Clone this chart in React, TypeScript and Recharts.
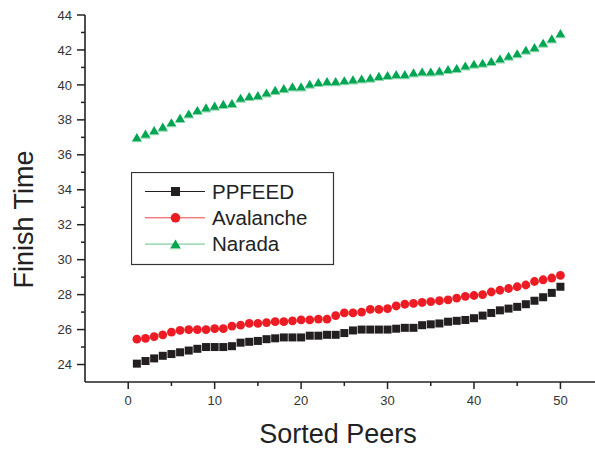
import React from 'react';
import { LineChart, Line, XAxis, YAxis, Legend, Label } from 'recharts';

// Peer rank (sorted by finish time)
const peers = [
  1, 2, 3, 4, 5, 6, 7, 8, 9, 10,
  11, 12, 13, 14, 15, 16, 17, 18, 19, 20,
  21, 22, 23, 24, 25, 26, 27, 28, 29, 30,
  31, 32, 33, 34, 35, 36, 37, 38, 39, 40,
  41, 42, 43, 44, 45, 46, 47, 48, 49, 50,
];

const ppfeed = [
  24.05, 24.2, 24.35, 24.5, 24.6, 24.7, 24.8, 24.9, 25.0, 25.0,
  25.0, 25.05, 25.25, 25.3, 25.35, 25.45, 25.5, 25.55, 25.55, 25.55,
  25.65, 25.65, 25.7, 25.7, 25.8, 25.95, 26.0, 26.0, 26.0, 26.0,
  26.05, 26.1, 26.1, 26.25, 26.3, 26.35, 26.45, 26.5, 26.55, 26.65,
  26.8, 26.95, 27.1, 27.2, 27.3, 27.45, 27.65, 27.85, 28.1, 28.45,
];

const avalanche = [
  25.45, 25.5, 25.6, 25.7, 25.85, 25.95, 26.0, 26.0, 26.0, 26.05,
  26.05, 26.2, 26.25, 26.35, 26.35, 26.4, 26.45, 26.45, 26.5, 26.55,
  26.55, 26.6, 26.6, 26.8, 26.95, 26.95, 27.0, 27.15, 27.15, 27.2,
  27.35, 27.45, 27.5, 27.55, 27.6, 27.65, 27.7, 27.8, 27.9, 27.95,
  28.0, 28.15, 28.25, 28.35, 28.45, 28.55, 28.75, 28.85, 28.95, 29.1,
];

const narada = [
  37.0, 37.2, 37.4, 37.6, 37.85, 38.1, 38.35, 38.55, 38.7, 38.8,
  38.9, 38.95, 39.25, 39.35, 39.4, 39.55, 39.7, 39.8, 39.9, 39.9,
  40.05, 40.15, 40.2, 40.2, 40.25, 40.3, 40.35, 40.4, 40.5, 40.55,
  40.6, 40.6, 40.7, 40.75, 40.75, 40.8, 40.9, 40.95, 41.1, 41.2,
  41.25, 41.35, 41.5, 41.65, 41.8, 42.0, 42.15, 42.4, 42.65, 42.95,
];

const xTicks = [0, 5, 10, 15, 20, 25, 30, 35, 40, 45, 50];
const yTicks = [
  24, 25, 26, 27, 28, 29, 30, 31, 32, 33, 34,
  35, 36, 37, 38, 39, 40, 41, 42, 43, 44,
];

const seriesNames = ['PPFEED', 'Avalanche', 'Narada'];

const data = peers.map((p, i) => ({
  peer: p,
  ppfeed: ppfeed[i],
  avalanche: avalanche[i],
  narada: narada[i],
}));

const FONT = '"Liberation Sans", Arial, Helvetica, sans-serif';
const INK = '#222';
const BLACK = '#231f20';
const RED = '#ed1c24';
const GREEN = '#00a651';

const Square = ({ cx, cy, size = 8 }: any) => {
  if (cx == null || cy == null) return null;
  return <rect x={cx - size / 2} y={cy - size / 2} width={size} height={size} fill={BLACK} />;
};

const Dot = ({ cx, cy, r = 4.4 }: any) => {
  if (cx == null || cy == null) return null;
  return <circle cx={cx} cy={cy} r={r} fill={RED} />;
};

const Triangle = ({ cx, cy, s = 1 }: any) => {
  if (cx == null || cy == null) return null;
  const pts = `${cx},${cy - 4.3 * s} ${cx + 4.8 * s},${cy + 3.8 * s} ${cx - 4.8 * s},${cy + 3.8 * s}`;
  const under = `${cx - 4.8 * s},${cy + 3.8 * s} ${cx + 4.8 * s},${cy + 3.8 * s} ${cx + 5.2 * s},${cy + 4.8 * s} ${cx - 5.2 * s},${cy + 4.8 * s}`;
  return (
    <g>
      <polygon points={under} fill="#8fd6ab" />
      <polygon points={pts} fill={GREEN} />
    </g>
  );
};

const XTick = ({ x, y, payload }: any) => {
  const major = payload.value % 10 === 0;
  return (
    <g>
      <line x1={x} y1={y} x2={x} y2={y + (major ? 7 : 4)} stroke={INK} strokeWidth={1.5} />
      {major && (
        <text x={x} y={y + 23} textAnchor="middle" fontFamily={FONT} fontSize={13} fill="#333">
          {payload.value}
        </text>
      )}
    </g>
  );
};

const YTick = ({ x, y, payload }: any) => {
  const major = payload.value % 2 === 0;
  return (
    <g>
      <line x1={x} y1={y} x2={x - (major ? 8 : 4)} y2={y} stroke={INK} strokeWidth={1.5} />
      {major && (
        <text x={x - 13} y={y + 4.6} textAnchor="end" fontFamily={FONT} fontSize={13} fill="#333">
          {payload.value}
        </text>
      )}
    </g>
  );
};

const XTitle = ({ viewBox }: any) => (
  <text
    x={viewBox.x + viewBox.width / 2 - 2}
    y={viewBox.y + 61}
    textAnchor="middle"
    fontFamily={FONT}
    fontSize={27}
    fill={INK}
  >
    Sorted Peers
  </text>
);

const YTitle = ({ viewBox }: any) => {
  const cx = 33;
  const cy = viewBox.y + viewBox.height / 2 + 21;
  return (
    <text
      x={cx}
      y={cy}
      transform={`rotate(-90 ${cx} ${cy})`}
      textAnchor="middle"
      fontFamily={FONT}
      fontSize={27}
      fill={INK}
    >
      Finish Time
    </text>
  );
};

const LegendBox = () => {
  const rows = [
    { name: seriesNames[0], line: BLACK, marker: (cx: number, cy: number) => <Square cx={cx} cy={cy} size={9} /> },
    { name: seriesNames[1], line: '#ef4047', marker: (cx: number, cy: number) => <Dot cx={cx} cy={cy} r={4.8} /> },
    { name: seriesNames[2], line: '#62c38c', marker: (cx: number, cy: number) => <Triangle cx={cx} cy={cy} s={1.05} /> },
  ];
  return (
    <svg width={204} height={94} style={{ display: 'block' }}>
      <rect x={0.5} y={0.5} width={202} height={92} fill="#fff" stroke="#333" strokeWidth={1.2} />
      {rows.map((r, i) => {
        const cy = 19.5 + i * 26.3;
        return (
          <g key={r.name}>
            <line x1={14} y1={cy} x2={74} y2={cy} stroke={r.line} strokeWidth={1} />
            {r.marker(44.5, cy)}
            <text x={81} y={cy + 7} fontFamily={FONT} fontSize={20.5} fill={INK}>
              {r.name}
            </text>
          </g>
        );
      })}
    </svg>
  );
};

export default function App() {
  return (
    <div style={{ position: 'absolute', left: 0, top: 0, width: 595, height: 450, background: '#fff' }}>
      <LineChart
        width={595}
        height={450}
        data={data}
        margin={{ top: 15, right: 0, bottom: 0, left: 0 }}
      >
        <XAxis
          dataKey="peer"
          type="number"
          domain={[-5, 54]}
          allowDataOverflow
          ticks={xTicks}
          interval={0}
          tickSize={0}
          tickMargin={0}
          tickLine={false}
          tick={<XTick />}
          height={68}
          axisLine={{ stroke: INK, strokeWidth: 1.6 }}
        >
          <Label content={<XTitle />} />
        </XAxis>
        <YAxis
          type="number"
          domain={[23, 44]}
          allowDataOverflow
          ticks={yTicks}
          interval={0}
          tickSize={0}
          tickMargin={0}
          tickLine={false}
          tick={<YTick />}
          width={85}
          axisLine={{ stroke: INK, strokeWidth: 1.6 }}
        >
          <Label content={<YTitle />} />
        </YAxis>
        <Legend
          layout="vertical"
          align="center"
          verticalAlign="middle"
          content={<LegendBox />}
          wrapperStyle={{ left: 131, top: 172, width: 204, height: 94 }}
        />
        <Line
          dataKey="ppfeed"
          name={seriesNames[0]}
          stroke="none"
          isAnimationActive={false}
          dot={(p: any) => <Square key={`s${p.index}`} cx={p.cx} cy={p.cy} />}
          activeDot={false}
        />
        <Line
          dataKey="avalanche"
          name={seriesNames[1]}
          stroke="none"
          isAnimationActive={false}
          dot={(p: any) => <Dot key={`c${p.index}`} cx={p.cx} cy={p.cy} />}
          activeDot={false}
        />
        <Line
          dataKey="narada"
          name={seriesNames[2]}
          stroke="none"
          isAnimationActive={false}
          dot={(p: any) => <Triangle key={`t${p.index}`} cx={p.cx} cy={p.cy} />}
          activeDot={false}
        />
      </LineChart>
    </div>
  );
}
